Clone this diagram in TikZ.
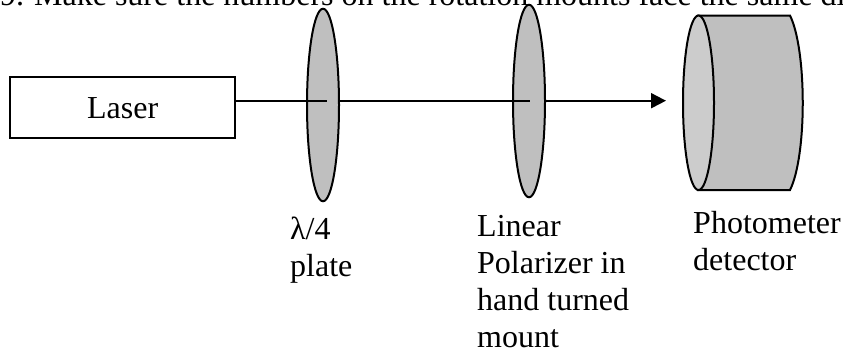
\documentclass[tikz,border=0pt]{standalone}
\usepackage{fontspec}
\setmainfont{Liberation Serif}
\usetikzlibrary{shapes.geometric,arrows.meta}
\definecolor{lensgray}{HTML}{BFBFBF}
\definecolor{facegray}{HTML}{CCCCCC}
\tikzset{
  x=1pt,y=-1pt,
  outline/.style={draw=black,line width=2pt},
  lens/.style={ellipse,outline,fill=lensgray,inner sep=0pt,minimum width=32pt,minimum height=192.5pt},
  beam/.style={line width=2pt},
  lbl/.style={anchor=north west,align=left,inner sep=0pt,font=\fontsize{32}{37}\selectfont},
}
\begin{document}
\begin{tikzpicture}
\useasboundingbox (0,0) rectangle (843,354);
\clip (0,0) rectangle (843,354);
\node[anchor=base west,inner sep=0pt,font=\fontsize{32}{36}\selectfont] (head) at (0,5) {9.\hspace{10pt}Make sure the numbers on the rotation mounts face the same di};
\node[rectangle,outline,minimum width=224.5pt,minimum height=61.5pt,inner sep=0pt,font=\fontsize{32}{36}\selectfont] (laser) at (122.7,107.7) {Laser};
\node[lens] (plate) at (323,105) {};
\node[lens] (pol) at (529,101) {};
\coordinate (tip) at (666,100.7);
\coordinate (platemid) at (327,100.7);
\coordinate (polmid) at (529.5,100.7);
\draw[beam] (laser.east |- tip) -- (platemid);
\draw[beam] (plate.east |- tip) -- (polmid);
\draw[beam,-{Triangle[length=15pt,width=15pt,sep=0pt]}] (pol.east |- tip) -- (tip);
\draw[outline,fill=lensgray] (698,15.5) -- (790,15.5) .. controls (807,50) and (807,156) .. (790,190) -- (698,190) -- cycle;
\node[ellipse,outline,fill=facegray,inner sep=0pt,minimum width=31pt,minimum height=174.5pt] (face) at (698.5,102.75) {};
\node[lbl] (l1) at (290,217) {λ/4\\plate};
\node[lbl] (l2) at (477,215) {Linear\\Polarizer in\\hand turned\\mount};
\node[lbl] (l3) at (693,211) {Photometer\\detector};
\end{tikzpicture}
\end{document}
